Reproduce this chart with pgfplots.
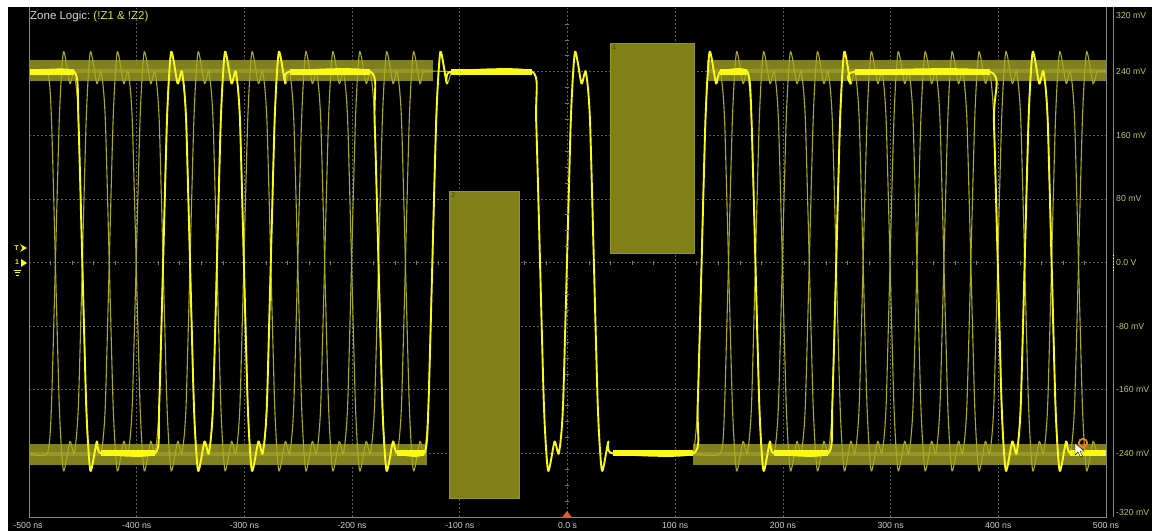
\documentclass[border=0pt]{standalone}
\usepackage{pgfplots}
\pgfplotsset{compat=1.18}
\usetikzlibrary{calc,backgrounds}
\usepackage{fontspec}
\setmainfont{Liberation Sans}
\definecolor{bright}{RGB}{250,250,20}
\definecolor{dim}{RGB}{170,170,35}
\definecolor{band}{RGB}{128,128,30}
\definecolor{bandc}{RGB}{150,150,38}
\definecolor{zonecol}{RGB}{128,128,22}
\definecolor{zoneedge}{RGB}{150,150,40}
\definecolor{gridc}{RGB}{95,95,95}
\definecolor{tickc}{RGB}{120,120,120}
\definecolor{framec}{RGB}{135,135,135}
\definecolor{ylab}{RGB}{195,195,95}
\definecolor{xlab}{RGB}{205,205,205}
\definecolor{titleY}{RGB}{225,225,70}
\definecolor{mkorange}{RGB}{235,90,30}
\definecolor{ringorange}{RGB}{235,130,30}
\tikzset{gridline/.style={draw=gridc, line width=0.7pt, dash pattern=on 2pt off 2pt}}
\begin{document}
\begin{tikzpicture}[x=1pt,y=1pt]
\begin{axis}[
  name=ax,
  scale only axis, width=1077pt, height=509pt,
  xmin=-500, xmax=500, ymin=-320, ymax=320,
  axis line style={draw=none},
  xtick=\empty, ytick=\empty,
]
\coordinate (SW) at (axis cs:-500,-320);
% graticule
\draw[gridline] (axis cs:-400,-320) -- (axis cs:-400,320);
\draw[gridline] (axis cs:-300,-320) -- (axis cs:-300,320);
\draw[gridline] (axis cs:-200,-320) -- (axis cs:-200,320);
\draw[gridline] (axis cs:-100,-320) -- (axis cs:-100,320);
\draw[gridline] (axis cs:0,-320) -- (axis cs:0,320);
\draw[gridline] (axis cs:100,-320) -- (axis cs:100,320);
\draw[gridline] (axis cs:200,-320) -- (axis cs:200,320);
\draw[gridline] (axis cs:300,-320) -- (axis cs:300,320);
\draw[gridline] (axis cs:400,-320) -- (axis cs:400,320);
\draw[gridline] (axis cs:-500,-240) -- (axis cs:500,-240);
\draw[gridline] (axis cs:-500,-160) -- (axis cs:500,-160);
\draw[gridline] (axis cs:-500,-80) -- (axis cs:500,-80);
\draw[gridline] (axis cs:-500,0) -- (axis cs:500,0);
\draw[gridline] (axis cs:-500,80) -- (axis cs:500,80);
\draw[gridline] (axis cs:-500,160) -- (axis cs:500,160);
\draw[gridline] (axis cs:-500,240) -- (axis cs:500,240);
% minor ticks on the centre lines
\addplot[only marks, mark=|, mark size=2pt, mark options={tickc, line width=0.6pt}] coordinates {
(-480,0) (-460,0) (-440,0) (-420,0) (-380,0) (-360,0) (-340,0) (-320,0) (-280,0) (-260,0) (-240,0) (-220,0) (-180,0) (-160,0) (-140,0) (-120,0) (-80,0) (-60,0) (-40,0) (-20,0) (20,0) (40,0) (60,0) (80,0) (120,0) (140,0) (160,0) (180,0) (220,0) (240,0) (260,0) (280,0) (320,0) (340,0) (360,0) (380,0) (420,0) (440,0) (460,0) (480,0)};
\addplot[only marks, mark=-, mark size=2pt, mark options={tickc, line width=0.6pt}] coordinates {
(0,-300) (0,-280) (0,-260) (0,-220) (0,-200) (0,-180) (0,-140) (0,-120) (0,-100) (0,-60) (0,-40) (0,-20) (0,20) (0,40) (0,60) (0,100) (0,120) (0,140) (0,180) (0,200) (0,220) (0,260) (0,280) (0,300)};
% zones
\addplot[fill=zonecol, draw=zoneedge, line width=0.6pt] coordinates {(-110,-296) (-45,-296) (-45,90) (-110,90)} -- cycle;
\addplot[fill=zonecol, draw=zoneedge, line width=0.6pt] coordinates {(39.5,12) (117.5,12) (117.5,276) (39.5,276)} -- cycle;
\node[anchor=north west, inner sep=1pt, text={rgb,255:red,70;green,70;blue,10}, font=\fontsize{7}{7}\selectfont] at (axis cs:-109,89) {2};
\node[anchor=north west, inner sep=1pt, text={rgb,255:red,70;green,70;blue,10}, font=\fontsize{7}{7}\selectfont] at (axis cs:40.5,275) {1};
% persistence bands
\addplot[fill=band, draw=none] coordinates {(-500,228) (-125,228) (-125,254) (-500,254)} -- cycle;
\addplot[fill=band, draw=none] coordinates {(-500,-254) (-130,-254) (-130,-228) (-500,-228)} -- cycle;
\addplot[fill=band, draw=none] coordinates {(130,228) (500,228) (500,254) (130,254)} -- cycle;
\addplot[fill=band, draw=none] coordinates {(117,-254) (500,-254) (500,-228) (117,-228)} -- cycle;
\addplot[bandc, line width=4pt, unbounded coords=jump] coordinates {
(-500,241) (-125,241) (nan,nan) (-500,-241) (-130,-241) (nan,nan) (130,241) (500,241) (nan,nan) (117,-241) (500,-241)};
% dim acquisition A
\addplot[dim, line width=1.1pt, smooth, tension=0.35] coordinates {
(-500,-240) (-483,-240) (-479,-175) (-472,175) (-468,265) (-462,225) (-458,240)
(-454,175) (-447,-175) (-443,-262) (-437,-225) (-433,-240)
(-429,-175) (-422,175) (-418,265) (-412,225) (-408,240)
(-404,175) (-397,-175) (-393,-262) (-387,-225) (-383,-240)
(-379,-175) (-372,175) (-368,265) (-362,225) (-358,240)
(-354,175) (-347,-175) (-343,-262) (-337,-225) (-333,-240)
(-329,-175) (-322,175) (-318,265) (-312,225) (-308,240)
(-304,175) (-297,-175) (-293,-262) (-287,-225) (-283,-240)
(-279,-175) (-272,175) (-268,265) (-262,225) (-258,240)
(-254,175) (-247,-175) (-243,-262) (-237,-225) (-233,-240)
(-229,-175) (-222,175) (-218,265) (-212,225) (-208,240)
(-204,175) (-197,-175) (-193,-262) (-187,-225) (-183,-240)
(-179,-175) (-172,175) (-168,265) (-162,225) (-158,240)
(-154,175) (-147,-175) (-143,-262) (-137,-225) (-133,-240)
(-129,-175) (-122,175) (-118,265) (-112,225) (-108,240)};
\addplot[dim, line width=1.1pt, smooth, tension=0.35] coordinates {
(117,-240) (121,-175) (128,175) (132,265) (138,225) (142,240)
(146,175) (153,-175) (157,-262) (163,-225) (167,-240)
(171,-175) (178,175) (182,265) (188,225) (192,240)
(196,175) (203,-175) (207,-262) (213,-225) (217,-240)
(221,-175) (228,175) (232,265) (238,225) (242,240)
(246,175) (253,-175) (257,-262) (263,-225) (267,-240)
(271,-175) (278,175) (282,265) (288,225) (292,240)
(296,175) (303,-175) (307,-262) (313,-225) (317,-240)
(321,-175) (328,175) (332,265) (338,225) (342,240)
(346,175) (353,-175) (357,-262) (363,-225) (367,-240)
(371,-175) (378,175) (382,265) (388,225) (392,240)
(396,175) (403,-175) (407,-262) (413,-225) (417,-240)
(421,-175) (428,175) (432,265) (438,225) (442,240)
(446,175) (453,-175) (457,-262) (463,-225) (467,-240)
(471,-175) (478,175) (482,265) (488,225) (492,240) (500,240)};
% dim acquisition B
\addplot[dim, line width=1.1pt, smooth, tension=0.35] coordinates {
(-500,240) (-483,240) (-479,175) (-472,-175) (-468,-262) (-462,-225) (-458,-240)
(-454,-175) (-447,175) (-443,265) (-437,225) (-433,240)
(-429,175) (-422,-175) (-418,-262) (-412,-225) (-408,-240)
(-404,-175) (-397,175) (-393,265) (-387,225) (-383,240)
(-379,175) (-372,-175) (-368,-262) (-362,-225) (-358,-240)
(-354,-175) (-347,175) (-343,265) (-337,225) (-333,240)
(-329,175) (-322,-175) (-318,-262) (-312,-225) (-308,-240)
(-304,-175) (-297,175) (-293,265) (-287,225) (-283,240)
(-279,175) (-272,-175) (-268,-262) (-262,-225) (-258,-240)
(-254,-175) (-247,175) (-243,265) (-237,225) (-233,240)
(-229,175) (-222,-175) (-218,-262) (-212,-225) (-208,-240)
(-204,-175) (-197,175) (-193,265) (-187,225) (-183,240)
(-179,175) (-172,-175) (-168,-262) (-162,-225) (-158,-240)
(-154,-175) (-147,175) (-143,265) (-137,225) (-133,240) (-110,240)};
\addplot[dim, line width=1.1pt, smooth, tension=0.35] coordinates {
(117,-240) (142,-240) (146,-175) (153,175) (157,265) (163,225) (167,240)
(171,175) (178,-175) (182,-262) (188,-225) (192,-240)
(196,-175) (203,175) (207,265) (213,225) (217,240)
(221,175) (228,-175) (232,-262) (238,-225) (242,-240)
(246,-175) (253,175) (257,265) (263,225) (267,240)
(271,175) (278,-175) (282,-262) (288,-225) (292,-240)
(296,-175) (303,175) (307,265) (313,225) (317,240)
(321,175) (328,-175) (332,-262) (338,-225) (342,-240)
(346,-175) (353,175) (357,265) (363,225) (367,240)
(371,175) (378,-175) (382,-262) (388,-225) (392,-240)
(396,-175) (403,175) (407,265) (413,225) (417,240)
(421,175) (428,-175) (432,-262) (438,-225) (442,-240)
(446,-175) (453,175) (457,265) (463,225) (467,240)
(471,175) (478,-175) (482,-262) (488,-225) (492,-240) (500,-240)};
% highlighted acquisition
\addplot[bright, line width=6pt, unbounded coords=jump] coordinates {
(-500,240) (-458,240) (nan,nan) (-433,-240) (-383,-240) (nan,nan)
(-258,240) (-183,240) (nan,nan) (-158,-240) (-133,-240) (nan,nan)
(-108,240) (-33,240) (nan,nan) (42,-240) (117,-240) (nan,nan)
(142,240) (167,240) (nan,nan) (192,-240) (242,-240) (nan,nan)
(267,240) (392,240) (nan,nan) (467,-240) (500,-240)};
\addplot[bright, line width=1.9pt, line join=round, smooth, tension=0.35] coordinates {
(-500,240) (-458,240) (-454,175) (-447,-175) (-443,-262) (-437,-225) (-433,-240)
(-383,-240) (-379,-175) (-372,175) (-368,265) (-362,225) (-358,240)
(-354,175) (-347,-175) (-343,-262) (-337,-225) (-333,-240)
(-329,-175) (-322,175) (-318,265) (-312,225) (-308,240)
(-304,175) (-297,-175) (-293,-262) (-287,-225) (-283,-240)
(-279,-175) (-272,175) (-268,265) (-262,225) (-258,240)
(-183,240) (-179,175) (-172,-175) (-168,-262) (-162,-225) (-158,-240)
(-133,-240) (-129,-175) (-122,175) (-118,265) (-112,225) (-108,240)
(-33,240) (-29,175) (-22,-175) (-18,-262) (-12,-225) (-8,-240)
(-4,-175) (3,175) (7,265) (13,225) (17,240)
(21,175) (28,-175) (32,-262) (38,-225) (42,-240)
(117,-240) (121,-175) (128,175) (132,265) (138,225) (142,240)
(167,240) (171,175) (178,-175) (182,-262) (188,-225) (192,-240)
(242,-240) (246,-175) (253,175) (257,265) (263,225) (267,240)
(392,240) (396,175) (403,-175) (407,-262) (413,-225) (417,-240)
(421,-175) (428,175) (432,265) (438,225) (442,240)
(446,175) (453,-175) (457,-262) (463,-225) (467,-240) (500,-240)};
\end{axis}
\begin{scope}[shift={($(SW)+(-29pt,-14pt)$)}]
\coordinate (BBa) at (0,0);
\coordinate (BBb) at (1152,531);
\begin{scope}[on background layer]
\fill[white] (0,0) rectangle (1152,531);
\fill[black] (8,0) rectangle (1152,524);
\end{scope}
% frame
\draw[framec, line width=1pt] (29,524) -- (29,14) -- (1106,14) -- (1106,524);
\draw[framec, line width=1pt] (1113.5,524) -- (1113.5,14);
\draw[white, line width=1pt, dash pattern=on 1.5pt off 1.5pt] (1113.5,276) -- (1113.5,260);
% title
\node[anchor=base west, inner sep=0pt, font=\fontsize{11.5}{12}\selectfont] at (30,511)
  {\textcolor[RGB]{215,215,215}{Zone Logic:}\ \textcolor{titleY}{(!Z1 \& !Z2)}};
% y labels
\begin{scope}[every node/.style={anchor=west, inner sep=0pt, text=ylab, font=\fontsize{8.7}{9}\selectfont}]
\node at (1116,515) {320 mV};
\node at (1116,459.4) {240 mV};
\node at (1116,395.7) {160 mV};
\node at (1116,332.1) {80 mV};
\node at (1116,268.5) {0.0 V};
\node at (1116,204.9) {-80 mV};
\node at (1116,141.3) {-160 mV};
\node at (1116,77.6) {-240 mV};
\node at (1116,18) {-320 mV};
\end{scope}
% x labels
\begin{scope}[every node/.style={anchor=base, inner sep=0pt, text=xlab, font=\fontsize{8.7}{9}\selectfont}]
\node at (28,2.3) {-500 ns};
\node at (136.7,2.3) {-400 ns};
\node at (244.4,2.3) {-300 ns};
\node at (352.1,2.3) {-200 ns};
\node at (459.8,2.3) {-100 ns};
\node at (567.5,2.3) {0.0 s};
\node at (675.2,2.3) {100 ns};
\node at (782.9,2.3) {200 ns};
\node at (890.6,2.3) {300 ns};
\node at (998.3,2.3) {400 ns};
\node at (1106,2.3) {500 ns};
\end{scope}
% trigger position marker
\fill[mkorange] (562,13.5) -- (572,13.5) -- (567,20) -- cycle;
% channel markers on the left
\node[anchor=center, inner sep=0pt, text=bright, font=\fontsize{7}{7}\selectfont\bfseries] at (16.5,283) {T};
\fill[bright] (20,287) -- (27,283) -- (20,279) -- (22.5,283) -- cycle;
\node[anchor=center, inner sep=0pt, text=bright, font=\fontsize{7}{7}\selectfont\bfseries] at (17,268.5) {1};
\fill[bright] (21,272) -- (27,268) -- (21,264) -- cycle;
\draw[bright, line width=0.8pt] (13.5,261) -- (20.5,261) (14.5,258.5) -- (19.5,258.5) (15.5,256) -- (18.5,256);
% cursor and ring
\draw[ringorange, line width=1.8pt] (1083,88) circle (4.2);
\filldraw[fill=white, draw=black, line width=0.4pt] (1075,88) -- (1075,76) -- (1078,79) -- (1080.5,74) -- (1082.5,75) -- (1080,80) -- (1084,80) -- cycle;
\end{scope}
\pgfresetboundingbox
\path[use as bounding box] (BBa) rectangle (BBb);
\end{tikzpicture}
\end{document}
